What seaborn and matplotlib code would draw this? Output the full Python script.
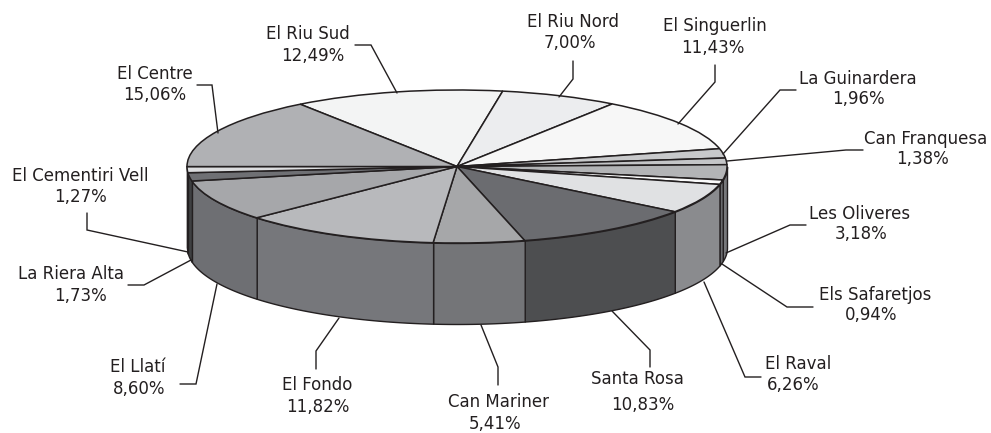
import numpy as np
import matplotlib
matplotlib.use('Agg')
import matplotlib.pyplot as plt
import seaborn as sns

sns.set_theme(style="white")
plt.rcParams['font.family'] = ['DejaVu Sans']

names = ['El Riu Sud', 'El Riu Nord', 'El Singuerlin', 'La Guinardera', 'Can Franquesa',
         'Les Oliveres', 'Els Safaretjos', 'El Raval', 'Santa Rosa', 'Can Mariner',
         'El Fondo', 'El Llatí', 'La Riera Alta', 'El Cementiri Vell', 'El Centre']
values = [12.49, 7.00, 11.43, 1.96, 1.38, 3.18, 0.94, 6.26, 10.83, 5.41, 11.82, 8.60, 1.73, 1.27, 15.06]
top_colors = ['#f3f4f4', '#ecedef', '#f7f7f7', '#c8c9cb', '#c4c5c7', '#b3b4b6', '#fafafa', '#e0e1e3',
              '#6b6c70', '#a6a7a9', '#b8b9bc', '#a6a7aa', '#6f7074', '#dcdddf', '#b0b1b4']
side_colors = ['#d0d0d0', '#d0d0d0', '#d0d0d0', '#8a8b8e', '#8a8b8e', '#77787b', '#6a6b6e', '#8a8b8e',
               '#4d4e50', '#747578', '#76777b', '#6e6f73', '#3f4042', '#58595b', '#58595b']

# name centre, value centre and leader polyline, all in picture pixels
labels = {
    'El Riu Sud': ((308, 34), (313, 56), [(355, 45), (371, 45), (397, 93)]),
    'El Riu Nord': ((573, 22), (570, 43), [(573, 61), (573, 79), (559, 97)]),
    'El Singuerlin': ((715, 26), (713, 48), [(715, 65), (715, 82), (678, 124)]),
    'La Guinardera': ((858, 79), (858, 99), [(796, 90), (780, 90), (723, 154)]),
    'Can Franquesa': ((926, 139), (923, 159), [(863, 150), (846, 150), (727, 161)]),
    'Les Oliveres': ((860, 214), (861, 234), [(806, 225), (790, 225), (726, 253)]),
    'Els Safaretjos': ((875, 295), (871, 315), [(813, 307), (787, 307), (722, 264)]),
    'El Raval': ((798, 364), (793, 385), [(761, 377), (745, 377), (704, 282)]),
    'Santa Rosa': ((637, 379), (643, 405), [(650, 367), (650, 350), (612, 311)]),
    'Can Mariner': ((498, 402), (495, 424), [(498, 385), (498, 367), (481, 325)]),
    'El Fondo': ((317, 385), (318, 407), [(316, 369), (316, 351), (339, 318)]),
    'El Llatí': ((138, 367), (139, 389), [(180, 384), (196, 384), (217, 284)]),
    'La Riera Alta': ((71, 274), (81, 296), [(128, 285), (144, 285), (191, 260)]),
    'El Cementiri Vell': ((80, 176), (81, 197), [(87, 213), (87, 230), (188, 252)]),
    'El Centre': ((155, 74), (155, 95), [(197, 85), (212, 85), (218, 133)]),
}

cx, cy, rx, ry, depth = 457, 166.5, 270, 76.5, 81
start = -35.5

fig = plt.figure(figsize=(9.91, 4.33), dpi=100)
ax = fig.add_axes([0, 0, 1, 1])
line = '#231f20'

ax.pie(values, colors=sns.color_palette(top_colors), startangle=90 - start, counterclock=False,
       radius=1, wedgeprops=dict(edgecolor=line, linewidth=1.1, zorder=3))
ax.set_aspect('auto')
ax.set_xlim(-cx / rx, (991 - cx) / rx)
ax.set_ylim((cy - 433) / ry, cy / ry)
ax.axis('off')

# wall of the pie, only the part facing the viewer
d = depth / ry
shares = np.array(values) / sum(values) * 360
ends = start + np.cumsum(shares)
for a1, a0, col in zip(ends, ends - shares, side_colors):
    for shift in (0, 360):
        lo, hi = max(a0 + shift, 90), min(a1 + shift, 270)
        if lo >= hi:
            continue
        t = np.radians(np.linspace(lo, hi, 60))
        x, y = np.sin(t), np.cos(t)
        ax.fill_between(x, y, y - d, color=col, edgecolor=line, linewidth=1.0, zorder=2)

# labels and leaders on a pixel overlay
ov = fig.add_axes([0, 0, 1, 1])
ov.set_xlim(0, 991)
ov.set_ylim(433, 0)
ov.axis('off')
ov.patch.set_alpha(0)
for name, val in zip(names, values):
    (nx, ny), (vx, vy), pts = labels[name]
    ov.plot([p[0] for p in pts], [p[1] for p in pts], color=line, lw=1.0, solid_joinstyle='miter')
    ov.text(nx, ny, name, ha='center', va='center', fontsize=12, color=line)
    ov.text(vx, vy, f'{val:.2f}%'.replace('.', ','), ha='center', va='center', fontsize=12, color=line)

fig.savefig('out.png', dpi=100)
